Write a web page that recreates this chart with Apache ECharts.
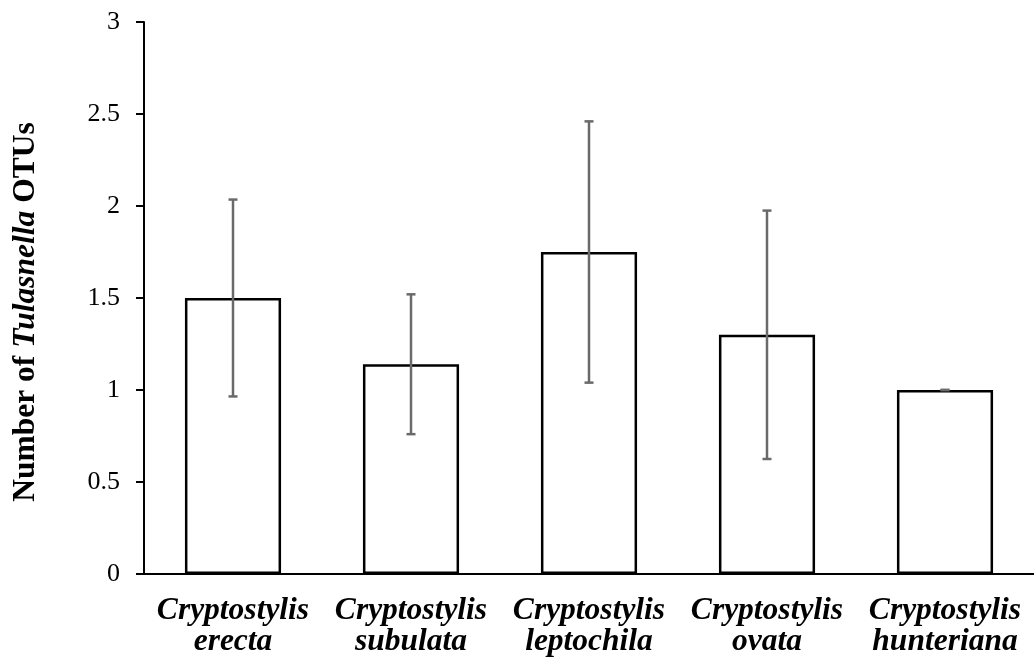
<!DOCTYPE html>
<html><head><meta charset="utf-8">
<script src="https://cdn.jsdelivr.net/npm/echarts@6/dist/echarts.min.js"></script>
<style>html,body{margin:0;padding:0;background:#fff}#c{width:1034px;height:670px}</style>
</head><body><div id="c"></div>
<script>
var categories = ['Cryptostylis\nerecta','Cryptostylis\nsubulata','Cryptostylis\nleptochila','Cryptostylis\novata','Cryptostylis\nhunteriana'];
var means = [1.50, 1.14, 1.75, 1.30, 1.00];
var errLow = [0.965, 0.76, 1.04, 0.625, 1.00];
var errHigh = [2.035, 1.52, 2.46, 1.975, 1.00];
var yTicks = [0, 0.5, 1, 1.5, 2, 2.5, 3];

var chart = echarts.init(document.getElementById('c'));
var serif = '"Liberation Serif","Times New Roman",serif';
chart.setOption({
  animation:false,
  grid:{left:144, top:22, width:895, height:552, containLabel:false},
  xAxis:{type:'category', data:categories,
    axisLine:{lineStyle:{color:'#000', width:2}},
    axisTick:{show:false},
    axisLabel:{fontFamily:serif, fontSize:31.5, fontWeight:'bold', fontStyle:'italic', color:'#000', lineHeight:31, margin:21, interval:0}
  },
  yAxis:{type:'value', min:0, max:3, interval:0.5,
    name:'{b|Number of }{i|Tulasnella}{b| OTUs}', nameLocation:'middle', nameGap:102, nameRotate:90,
    nameTextStyle:{padding:[0,28,0,0], rich:{b:{fontFamily:serif,fontSize:31.5,fontWeight:'bold',color:'#000'},i:{fontFamily:serif,fontSize:31.5,fontWeight:'bold',fontStyle:'italic',color:'#000'}}},
    axisLine:{show:true, lineStyle:{color:'#000', width:2}},
    axisTick:{show:true, length:8, lineStyle:{color:'#000', width:2}},
    splitLine:{show:false},
    axisLabel:{fontFamily:serif, fontSize:26, color:'#000', margin:24,
      formatter:function(v){return yTicks.indexOf(v)>=0 ? String(v) : '';}}
  },
  series:[
    {type:'bar', data:means, barWidth:'54%',
      itemStyle:{color:'#fff', borderColor:'#000', borderWidth:2.5}},
    {type:'custom', z:10,
      data:categories.map(function(c,i){return [i, errLow[i], errHigh[i]];}),
      renderItem:function(params, api){
        var x = api.value(0);
        var lo = api.coord([x, api.value(1)]);
        var hi = api.coord([x, api.value(2)]);
        var hw = 4.5;
        var st = {stroke:'#6a6a6a', lineWidth:2.5};
        return {type:'group', children:[
          {type:'line', shape:{x1:lo[0],y1:lo[1],x2:hi[0],y2:hi[1]}, style:st},
          {type:'line', shape:{x1:lo[0]-hw,y1:lo[1],x2:lo[0]+hw,y2:lo[1]}, style:st},
          {type:'line', shape:{x1:hi[0]-hw,y1:hi[1],x2:hi[0]+hw,y2:hi[1]}, style:st}
        ]};
      }
    }
  ]
});
</script></body></html>
